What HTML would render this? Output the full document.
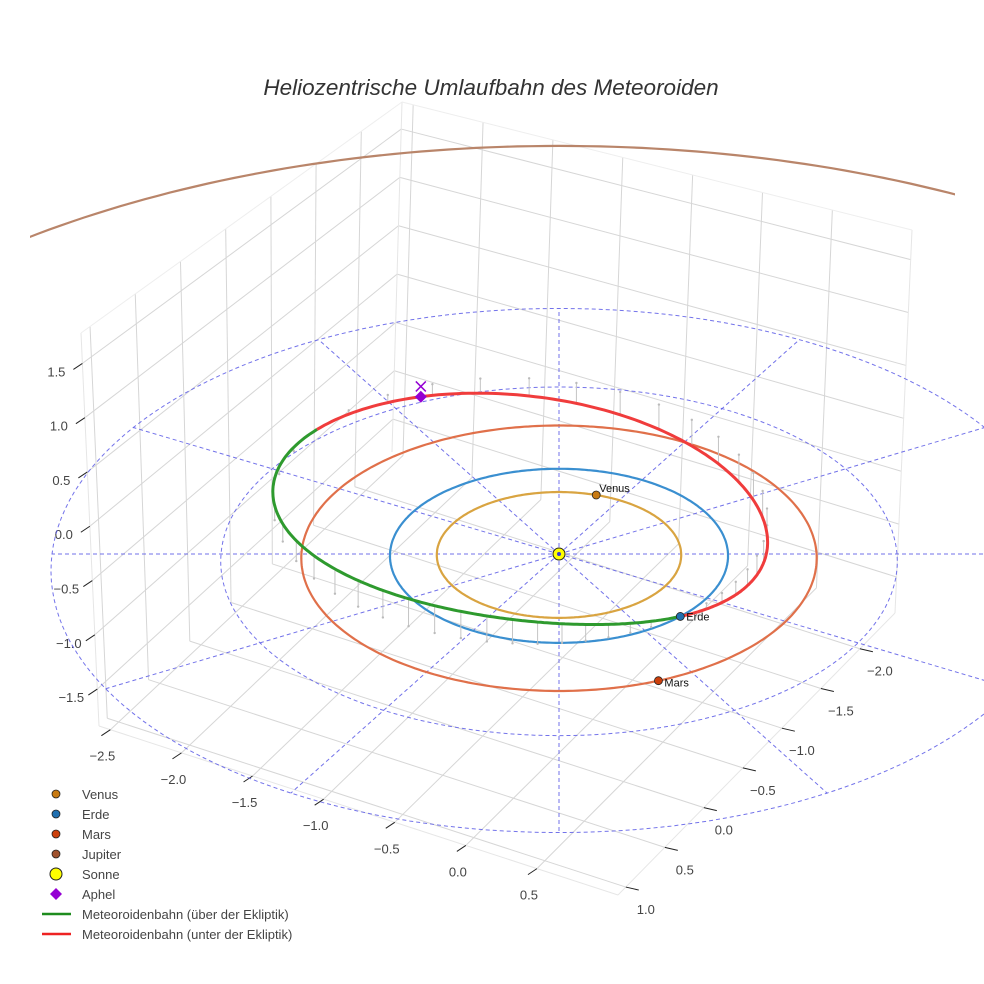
<!DOCTYPE html>
<html><head><meta charset="utf-8"><title>Heliozentrische Umlaufbahn</title>
<style>
html,body{margin:0;padding:0;background:#fff;overflow:hidden;width:984px;height:984px;}
svg{display:block;font-family:"Liberation Sans",Arial,sans-serif;position:absolute;left:0;top:0;}
</style></head>
<body>
<svg id="chart" width="984" height="984" viewBox="0 0 984 984" xmlns="http://www.w3.org/2000/svg">
<defs><clipPath id="jclip"><rect x="30" y="0" width="925" height="250"/></clipPath></defs>
<rect width="984" height="984" fill="#fff"/>
<g id="box"></g>
<g id="eclip"></g>
<g id="orbits"></g>
<g id="meteor"></g>
<g id="marks"></g>
<text x="491" y="95" text-anchor="middle" font-size="22.5" font-style="italic" fill="#333">Heliozentrische Umlaufbahn des Meteoroiden</text>
<g id="legend"></g>
</svg>
<script>
// ---- data ----
const planetNames = ['Venus', 'Erde', 'Mars', 'Jupiter'];
const orbitRadii = [0.723, 1.0, 1.524, 5.203];
const planetAngles = [72, -45, -68, 200];
const orbitColors = ['#d9a441', '#3a8fd0', '#e0704a', '#b9856a'];
const markerColors = ['#c87a12', '#1f6fb0', '#cc400c', '#a0522d'];
const meteorP = [1.352];
const meteorE = [0.38];
const meteorPeriArg = [-67];
const meteorNode = [-45];
const meteorMaxZ = [0.25];
const ringRadii = [1, 2, 3];
const radialAngles = [0, 30, 60, 90, 120, 150, 180, 210, 240, 270, 300, 330];
const xTicks = [-2.5, -2.0, -1.5, -1.0, -0.5, 0.0, 0.5];
const yTicks = [-2.0, -1.5, -1.0, -0.5, 0.0, 0.5, 1.0];
const zTicks = [-1.5, -1.0, -0.5, 0.0, 0.5, 1.0, 1.5];
const legendLabels = ['Venus', 'Erde', 'Mars', 'Jupiter', 'Sonne', 'Aphel', 'Meteoroidenbahn (über der Ekliptik)', 'Meteoroidenbahn (unter der Ekliptik)'];

const NS = 'http://www.w3.org/2000/svg';
function mk(tag, attrs, parent) {
  const e = document.createElementNS(NS, tag);
  for (const k in attrs) e.setAttribute(k, attrs[k]);
  parent.appendChild(e);
  return e;
}
function fmt(v) { return (v < 0 ? '\u2212' : '') + Math.abs(v).toFixed(1); }

// ---- box projection (trilinear on 8 screen corners) ----
const X0 = -2.58, X1 = 1.07, Y0 = -2.45, Y1 = 1.1, Z0 = -1.84, Z1 = 1.78;
const C = {
  '000': [392, 452], '100': [895, 613], '010': [99, 726], '110': [618, 895],
  '001': [402, 102], '101': [912, 230], '011': [81, 333], '111': [591, 461]
};
function B(x, y, z) {
  const u = (x - X0) / (X1 - X0), v = (y - Y0) / (Y1 - Y0), w = (z - Z0) / (Z1 - Z0);
  let px = 0, py = 0;
  for (const a of [0, 1]) for (const b of [0, 1]) for (const c of [0, 1]) {
    const wt = (a ? u : 1 - u) * (b ? v : 1 - v) * (c ? w : 1 - w);
    const p = C['' + a + b + c];
    px += wt * p[0]; py += wt * p[1];
  }
  return [px, py];
}
const box = document.getElementById('box');
function bline(p, q, col, name) {
  const a = B(...p), b = B(...q);
  const l = mk('line', { x1: a[0], y1: a[1], x2: b[0], y2: b[1], stroke: col, 'stroke-width': 1 }, box);
  
  
}
for (const x of xTicks) bline([x, Y0, Z0], [x, Y1, Z0], '#d6d6d6', 'floor-gridline-x');
for (const y of yTicks) bline([X0, y, Z0], [X1, y, Z0], '#d6d6d6', 'floor-gridline-y');
for (const y of yTicks) bline([X0, y, Z0], [X0, y, Z1], '#d6d6d6', 'wall-gridline-y');
for (const z of zTicks) bline([X0, Y0, z], [X0, Y1, z], '#d6d6d6', 'wall-gridline-z');
for (const x of xTicks) bline([x, Y0, Z0], [x, Y0, Z1], '#d6d6d6', 'wall-gridline-x');
for (const z of zTicks) bline([X0, Y0, z], [X1, Y0, z], '#d6d6d6', 'wall-gridline-z');
bline([X0, Y1, Z0], [X1, Y1, Z0], '#e6e6e6', 'box-edge');
bline([X1, Y1, Z0], [X1, Y0, Z0], '#e6e6e6', 'box-edge');
bline([X0, Y1, Z0], [X0, Y1, Z1], '#e6e6e6', 'box-edge');
bline([X1, Y0, Z0], [X1, Y0, Z1], '#e6e6e6', 'box-edge');
bline([X0, Y0, Z0], [X0, Y0, Z1], '#e6e6e6', 'box-edge');
bline([X0, Y1, Z1], [X0, Y0, Z1], '#eeeeee', 'box-edge');
bline([X0, Y0, Z1], [X1, Y0, Z1], '#eeeeee', 'box-edge');
function tick(p, d, lbl, off, name) {
  const t = mk('line', { x1: p[0], y1: p[1], x2: p[0] + d[0], y2: p[1] + d[1], stroke: '#222', 'stroke-width': 1 }, box);
  
  
  const tx = mk('text', { x: p[0] + off[0], y: p[1] + off[1], 'text-anchor': 'middle', 'font-size': 13, fill: '#444' }, box);
  tx.textContent = lbl;
  
  
}
for (const x of xTicks) tick(B(x, Y1, Z0), [-9, 6], fmt(x), [-8, 31], 'x-axis');
for (const y of yTicks) tick(B(X1, y, Z0), [13, 3], fmt(y), [20, 27], 'y-axis');
for (const z of zTicks) tick(B(X0, Y1, z), [-9, 6], fmt(z), [-26, 13], 'z-axis');

// ---- ecliptic projection ----
const CX = 559, CY = 554, KX = 169, KY = 87, KZ = 110, D = 0.021;
function P(x, y, z) { const s = 1 / (1 + D * y); return [CX + KX * x * s, CY - KY * y * s - KZ * z]; }
function polar(r, deg, z) { const a = deg * Math.PI / 180; return P(r * Math.cos(a), r * Math.sin(a), z || 0); }
function pathFrom(pts) { return pts.map((p, i) => (i ? 'L' : 'M') + p[0].toFixed(1) + ' ' + p[1].toFixed(1)).join(''); }

const eclip = document.getElementById('eclip');
for (const r of ringRadii) {
  const pts = [];
  for (let a = 0; a <= 360; a += 2) pts.push(polar(r, a));
  const e = mk('path', { d: pathFrom(pts), fill: 'none', stroke: '#5a5ae6', 'stroke-width': 1, 'stroke-dasharray': '4 3', opacity: 0.85 }, eclip);
  
  
}
for (const a of radialAngles) {
  const p = polar(0, a), q = polar(ringRadii[ringRadii.length - 1], a);
  const e = mk('line', { x1: p[0], y1: p[1], x2: q[0], y2: q[1], stroke: '#5a5ae6', 'stroke-width': 1, 'stroke-dasharray': '4 3', opacity: 0.85 }, eclip);
  
  
}

// ---- planet orbits ----
const orbits = document.getElementById('orbits');
for (let i = planetNames.length - 1; i >= 0; i--) {
  const pts = [];
  for (let a = 0; a <= 360; a += 1) pts.push(polar(orbitRadii[i], a));
  const e = mk('path', { d: pathFrom(pts), fill: 'none', stroke: orbitColors[i], 'stroke-width': 2.2 }, orbits);
  if (planetNames[i] === 'Jupiter') e.setAttribute('clip-path', 'url(#jclip)');
  
  
}

// ---- meteoroid ----
const meteor = document.getElementById('meteor');
function mr(t) { return meteorP[0] / (1 + meteorE[0] * Math.cos((t - meteorPeriArg[0]) * Math.PI / 180)); }
function mz(t) { return -meteorMaxZ[0] * Math.sin((t - meteorNode[0]) * Math.PI / 180); }
for (let t = meteorNode[0] + 4; t < meteorNode[0] + 360; t += 8) {
  const z = mz(t);
  if (Math.abs(z) < 0.02) continue;
  const p = polar(mr(t), t, z), q = polar(mr(t), t, 0);
  const s = mk('line', { x1: p[0], y1: p[1], x2: q[0], y2: q[1], stroke: '#c4c4c4', 'stroke-width': 1 }, meteor);
  
  
  const d = mk('circle', { cx: q[0], cy: q[1], r: 1.2, fill: '#bbb' }, meteor);
  
  
}
const green = [], red = [];
for (let t = meteorNode[0] + 180; t <= meteorNode[0] + 360; t += 1) green.push(polar(mr(t), t, mz(t)));
for (let t = meteorNode[0]; t <= meteorNode[0] + 180; t += 1) red.push(polar(mr(t), t, mz(t)));
const gp = mk('path', { d: pathFrom(green), fill: 'none', stroke: '#2e9a2e', 'stroke-width': 3 }, meteor);


const rp = mk('path', { d: pathFrom(red), fill: 'none', stroke: '#f03c3c', 'stroke-width': 3 }, meteor);



// ---- markers ----
const marks = document.getElementById('marks');
const labelOff = [[3, -3], [6, 4], [6, 6], [6, 4]];
for (let i = 0; i < planetNames.length; i++) {
  const p = polar(orbitRadii[i], planetAngles[i]);
  const c = mk('circle', { cx: p[0], cy: p[1], r: 4, fill: markerColors[i], stroke: '#222', 'stroke-width': 0.8 }, marks);
  
  
  if (i < 3) {
    const t = mk('text', { x: p[0] + labelOff[i][0], y: p[1] + labelOff[i][1], 'font-size': 11, fill: '#111' }, marks);
    t.textContent = planetNames[i];
    
    
  }
}
const sun = polar(0, 0);
const sc = mk('circle', { cx: sun[0], cy: sun[1], r: 6, fill: '#ffff00', stroke: '#222', 'stroke-width': 1 }, marks);


const sd = mk('circle', { cx: sun[0], cy: sun[1], r: 2, fill: '#3a3ad0' }, marks);


const aT = meteorPeriArg[0] + 180;
const ap = polar(mr(aT), aT, mz(aT)), ax = polar(mr(aT), aT, 0);
const dia = mk('path', { d: `M${ap[0]} ${ap[1] - 6}L${ap[0] + 6} ${ap[1]}L${ap[0]} ${ap[1] + 6}L${ap[0] - 6} ${ap[1]}Z`, fill: '#9400d3' }, marks);


const xm = mk('path', { d: `M${ax[0] - 5} ${ax[1] - 5}L${ax[0] + 5} ${ax[1] + 5}M${ax[0] + 5} ${ax[1] - 5}L${ax[0] - 5} ${ax[1] + 5}`, stroke: '#9400d3', 'stroke-width': 1.5 }, marks);



// ---- legend ----
const lg = document.getElementById('legend');
for (let i = 0; i < legendLabels.length; i++) {
  const y = 794 + i * 20;
  const g = mk('g', {}, lg);
  
  
  let sym;
  if (i < 4) sym = mk('circle', { cx: 56, cy: y, r: 4, fill: markerColors[i], stroke: '#222', 'stroke-width': 0.8 }, g);
  else if (i === 4) sym = mk('circle', { cx: 56, cy: y, r: 6, fill: '#ffff00', stroke: '#222', 'stroke-width': 1 }, g);
  else if (i === 5) sym = mk('path', { d: `M56 ${y - 6}L62 ${y}L56 ${y + 6}L50 ${y}Z`, fill: '#9400d3' }, g);
  else sym = mk('line', { x1: 42, y1: y, x2: 71, y2: y, stroke: i === 6 ? '#1e8c1e' : '#ee2222', 'stroke-width': 2.5 }, g);
  
  
  const t = mk('text', { x: 82, y: y + 5, 'font-size': 13, fill: '#444' }, g);
  t.textContent = legendLabels[i];
  
  
}
</script>
</body></html>
